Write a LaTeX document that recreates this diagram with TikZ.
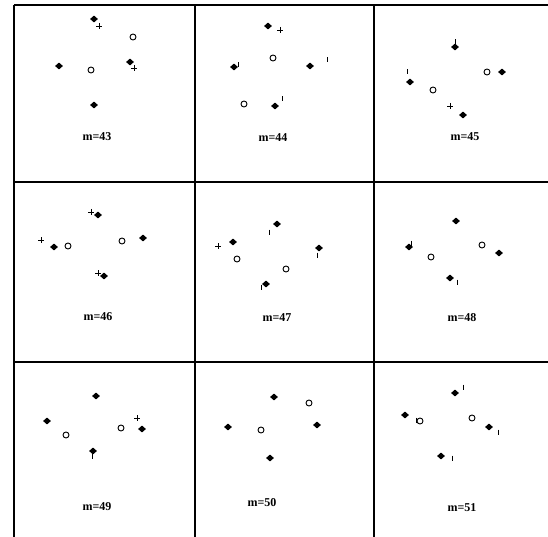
\documentclass[tikz,border=0pt]{standalone}
\usepackage{fontspec}
\setmainfont{Liberation Serif}
\usepackage{tikz}
\usetikzlibrary{shapes.geometric}

\begin{document}
\begin{tikzpicture}[x=1pt,y=-1pt,
    dmd/.style={diamond,fill=black,inner sep=0pt,minimum width=8pt,minimum height=7pt},
    ring/.style={circle,draw=black,line width=0.9pt,inner sep=0pt,minimum size=6pt},
    crs/.style={line width=0.8pt},
    tck/.style={line width=0.8pt},
    grid line/.style={line width=1.8pt},
    lbl/.style={font=\fontsize{12}{14}\selectfont\bfseries,inner sep=1pt}]
  \useasboundingbox (0,0) rectangle (548,537);

  % panel frame (cut off at right and bottom)
  \foreach \gx in {14,195,374}
    \draw[grid line] (\gx,5) -- (\gx,537);
  \foreach \gy in {5,182,362}
    \draw[grid line] (14,\gy) -- (548,\gy);

  % filled markers, rows m=43..45, 46..48, 49..51
  \foreach \px/\py [count=\i] in {
      94/19, 59/66, 130/62, 94/105,
      268/26, 234/67, 310/66, 275/106,
      455/47, 410/82, 502/72, 463/115,
      98/215, 54/247, 143/238, 104/276,
      277/224, 233/242, 319/248, 266/284,
      456/221, 409/247, 499/253, 450/278,
      96/396, 47/421, 142/429, 93/451,
      274/397, 228/427, 317/425, 270/458,
      455/393, 405/415, 489/427, 441/456}
    \node[dmd] (dmd\i) at (\px,\py) {};

  % open markers
  \foreach \px/\py [count=\i] in {
      133/37, 91/70, 273/58, 244/104, 433/90, 487/72,
      68/246, 122/241, 237/259, 286/269, 431/257, 482/245,
      66/435, 121/428, 309/403, 261/430, 420/421, 472/418}
    \node[ring] (ring\i) at (\px,\py) {};

  % crosses
  \foreach \px/\py in {99/26, 134/68, 280/30, 450/106,
      91/212, 41/240, 98/273, 218/246, 137/418}
    \draw[crs] (\px-3,\py) -- (\px+3,\py) (\px,\py-3) -- (\px,\py+3);

  % broken crosses (only the stroke is left)
  \foreach \px/\py in {238/65, 327/60, 282/99, 407/72, 455/42,
      269/232, 317/255, 261/287, 411/243, 457/282,
      92/456, 463/387, 498/432, 452/458, 416/420}
    \draw[tck] (\px,\py-2.5) -- (\px,\py+2.5);

  % panel labels
  \foreach \lx/\ly/\m in {97/137/43, 273/138/44, 465/137/45,
      98/317/46, 277/318/47, 462/318/48,
      97/507/49, 262/503/50, 462/508/51}
    \node[lbl] (m\m) at (\lx,\ly) {m=\m};
\end{tikzpicture}
\end{document}
